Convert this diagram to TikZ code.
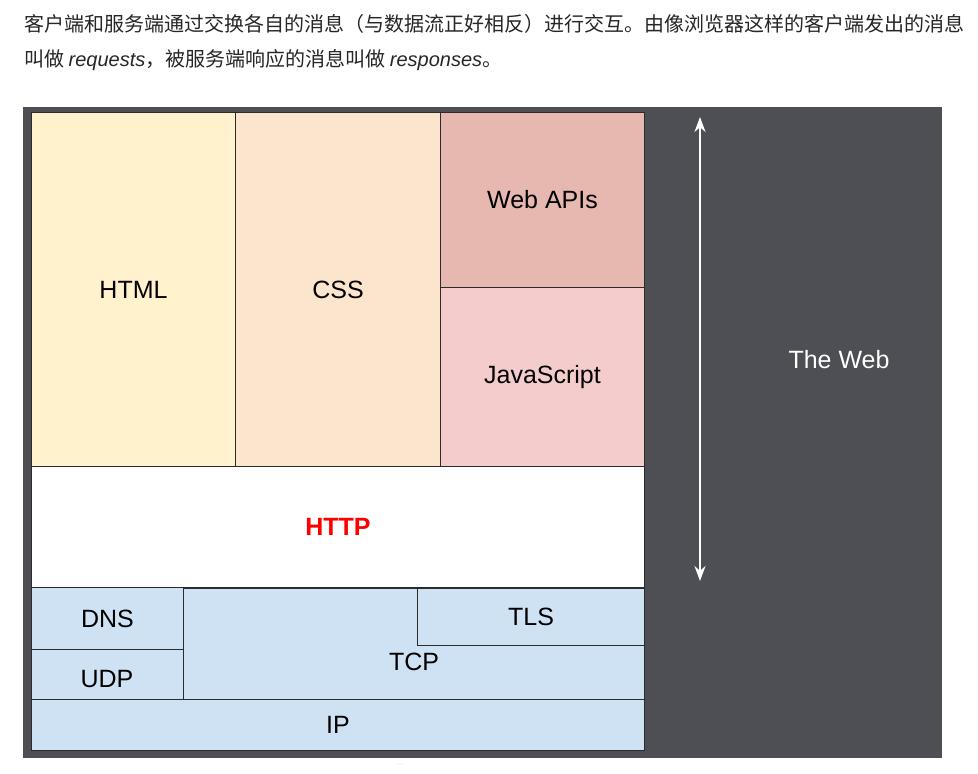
\documentclass[tikz,border=0pt]{standalone}
\usepackage{fontspec}
\setmainfont{Liberation Sans}
\newfontfamily\cjk{Noto Sans CJK SC}
\usetikzlibrary{arrows.meta}
\definecolor{panel}{HTML}{4E4F55}
\definecolor{cHTML}{HTML}{FFF2CC}
\definecolor{cCSS}{HTML}{FCE5CD}
\definecolor{cAPI}{HTML}{E6B8AF}
\definecolor{cJS}{HTML}{F4CCCC}
\definecolor{cNet}{HTML}{CFE2F3}
\definecolor{edge}{HTML}{2B2B2B}
\tikzset{
  layer/.style={draw=edge, line width=1pt, inner sep=0pt, anchor=north west,
    font=\fontsize{25}{29}\selectfont},
  lbl/.style={inner sep=0pt, font=\fontsize{25}{29}\selectfont},
  prose/.style={inner sep=0pt, anchor=west, text=black!85, font=\fontsize{20}{23}\selectfont},
}
\begin{document}
\begin{tikzpicture}[x=1pt,y=-1pt]
\useasboundingbox (0,0) rectangle (978,774);
\fill[white] (0,0) rectangle (978,774);
% prose
\node[prose] (p1) at (24,24) {\cjk 客户端和服务端通过交换各自的消息（与数据流正好相反）进行交互。由像浏览器这样的客户端发出的消息};
\node[prose] (p2) at (24,60) {\cjk 叫做 {\rmfamily\itshape requests}，被服务端响应的消息叫做 {\rmfamily\itshape responses}。};
% panel
\fill[panel] (23,107) rectangle (942,758);
% layers
\node[layer, fill=cHTML, minimum width=204pt, minimum height=354pt] (html) at (31,112) {HTML};
\node[layer, fill=cCSS, minimum width=205pt, minimum height=354pt] (css) at (235,112) {CSS};
\node[layer, fill=cAPI, minimum width=204pt, minimum height=175pt] (api) at (440,112) {Web APIs};
\node[layer, fill=cJS, minimum width=204pt, minimum height=179pt] (js) at (440,287) {JavaScript};
\node[layer, fill=white, minimum width=613pt, minimum height=121pt, text=red, font=\fontsize{25}{29}\selectfont\bfseries] (http) at (31,466) {HTTP};
\node[layer, fill=cNet, minimum width=152pt, minimum height=62pt] (dns) at (31,587) {DNS};
\node[layer, fill=cNet, minimum width=152pt, minimum height=50pt] (udp) at (31,649) {};
\node[lbl] (udpl) at (107,679) {UDP};
\draw[draw=edge, line width=1pt, fill=cNet] (183,588) -- (417,588) -- (417,645) -- (644,645) -- (644,699) -- (183,699) -- cycle;
\node[lbl] (tcp) at (414,662) {TCP};
\node[layer, fill=cNet, minimum width=227pt, minimum height=57pt] (tls) at (417,588) {TLS};
\node[layer, fill=cNet, minimum width=613pt, minimum height=51pt] (ip) at (31,699) {IP};
% the web
\coordinate (top) at (700,117);
\coordinate (bot) at (700,581);
\draw[white, line width=2pt, {Stealth[length=15pt,width=11pt]}-{Stealth[length=15pt,width=11pt]}] (top) -- (bot);
\node[lbl, text=white] (web) at (839,360) {The Web};
\node[inner sep=0pt, text=gray!50, font=\fontsize{7}{7}\selectfont] (dots) at (400,765) {···};
\end{tikzpicture}
\end{document}
